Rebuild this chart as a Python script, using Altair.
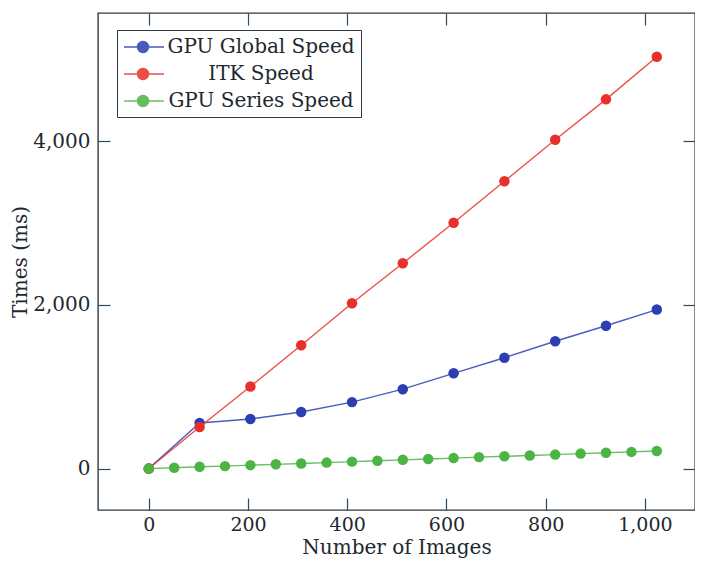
import altair as alt
import pandas as pd

# ---- data ----
series_names = ["GPU Global Speed", "ITK Speed", "GPU Series Speed"]
series_colors = ["#2b3fb0", "#e8302a", "#4cb444"]

x_coarse = [0, 102.4, 204.8, 307.2, 409.6, 512, 614.4, 716.8, 819.2, 921.6, 1024]
gpu_global = [0, 557, 606, 691, 812, 970, 1164, 1354, 1556, 1745, 1943]
itk = [0, 509, 1002, 1507, 2020, 2509, 3003, 3510, 4017, 4511, 5031]

x_fine = [0, 51.2, 102.4, 153.6, 204.8, 256, 307.2, 358.4, 409.6, 460.8, 512,
          563.2, 614.4, 665.6, 716.8, 768, 819.2, 870.4, 921.6, 972.8, 1024]
gpu_series = [0, 10, 22, 30, 42, 52, 62, 73, 85, 96, 107,
              117, 128, 140, 150, 160, 171, 183, 193, 204, 214]

x_ticks = [0, 200, 400, 600, 800, 1000]
y_ticks = [0, 2000, 4000]

rows = []
for xv, yv in zip(x_coarse, gpu_global):
    rows.append({"series": series_names[0], "x": xv, "y": yv})
for xv, yv in zip(x_coarse, itk):
    rows.append({"series": series_names[1], "x": xv, "y": yv})
for xv, yv in zip(x_fine, gpu_series):
    rows.append({"series": series_names[2], "x": xv, "y": yv})
df = pd.DataFrame(rows)

W, H = 597, 497
FONT = "DejaVu Serif"
TXT = "#1e2830"
TICK = "#2f4b5c"

xs = alt.Scale(domain=[-102.4, 1101], nice=False, zero=False)
ys = alt.Scale(domain=[-506, 5566], nice=False, zero=False)
cs = alt.Scale(domain=series_names, range=series_colors)

sym_path = "M-1,0L3,0M1.45,0A0.55,0.55,0,1,1,0.35,0A0.55,0.55,0,1,1,1.45,0Z"

legend = alt.Legend(
    title=None, orient="none", legendX=19, legendY=17,
    symbolType=sym_path, symbolSize=400, symbolStrokeWidth=1.5,
    labelFont=FONT, labelFontSize=20, labelColor=TXT,
    labelAlign="center", labelOffset=116, labelLimit=400,
    strokeColor="#2a3a44", fillColor="white", padding=6, rowPadding=6,
)

main_x_axis = alt.Axis(values=x_ticks, format=",d", labelFont=FONT, labelFontSize=19,
                       labelColor=TXT, ticks=False, domain=False, grid=False,
                       labelPadding=5, titleFont=FONT, titleFontSize=20,
                       titleFontWeight="normal", titleColor=TXT, titlePadding=3)
main_y_axis = alt.Axis(values=y_ticks, format=",d", labelFont=FONT, labelFontSize=20,
                       labelColor=TXT, ticks=False, domain=False, grid=False,
                       labelPadding=8, titleFont=FONT, titleFontSize=20,
                       titleFontWeight="normal", titleColor=TXT, titlePadding=2)

layers = []
first = True
for name in series_names:
    base = alt.Chart(df).transform_filter(alt.datum.series == name)
    if first:
        xenc = alt.X("x:Q", scale=xs, axis=main_x_axis, title="Number of Images")
        yenc = alt.Y("y:Q", scale=ys, axis=main_y_axis, title="Times (ms)")
        cenc = alt.Color("series:N", scale=cs, legend=legend)
    else:
        xenc = alt.X("x:Q", scale=xs, axis=None)
        yenc = alt.Y("y:Q", scale=ys, axis=None)
        cenc = alt.Color("series:N", scale=cs, legend=None)
    ln = base.mark_line(strokeWidth=1.4, opacity=0.85).encode(x=xenc, y=yenc, color=cenc)
    pt = base.mark_circle(size=110, opacity=1).encode(
        x=alt.X("x:Q", scale=xs, axis=None),
        y=alt.Y("y:Q", scale=ys, axis=None),
        color=alt.Color("series:N", scale=cs, legend=None))
    layers += [ln, pt]
    first = False


def tick_layer(xaxis, yaxis):
    return alt.Chart(df).mark_point(opacity=0).encode(
        x=alt.X("x:Q", scale=xs, axis=xaxis, title=None),
        y=alt.Y("y:Q", scale=ys, axis=yaxis, title=None))


tk = dict(labels=False, ticks=True, tickSize=12, tickColor=TICK, tickWidth=1.2,
          domain=False, grid=False)
layers.append(tick_layer(alt.Axis(orient="top", offset=-H, values=x_ticks, **tk), None))
layers.append(tick_layer(alt.Axis(orient="bottom", offset=-H, values=x_ticks, **tk), None))
layers.append(tick_layer(None, alt.Axis(orient="right", offset=-W, values=y_ticks, **tk)))
layers.append(tick_layer(None, alt.Axis(orient="left", offset=-W, values=y_ticks, **tk)))

chart = alt.layer(*layers).resolve_axis(x="independent", y="independent").properties(
    width=W, height=H,
    autosize=alt.AutoSizeParams(type="none"),
    padding={"left": 90, "top": 5, "right": 0, "bottom": 57},
    background="white",
).configure_view(stroke="#2a3a44", strokeWidth=1.4)

chart.save("out.html", embed_options={"renderer": "svg", "actions": False})
